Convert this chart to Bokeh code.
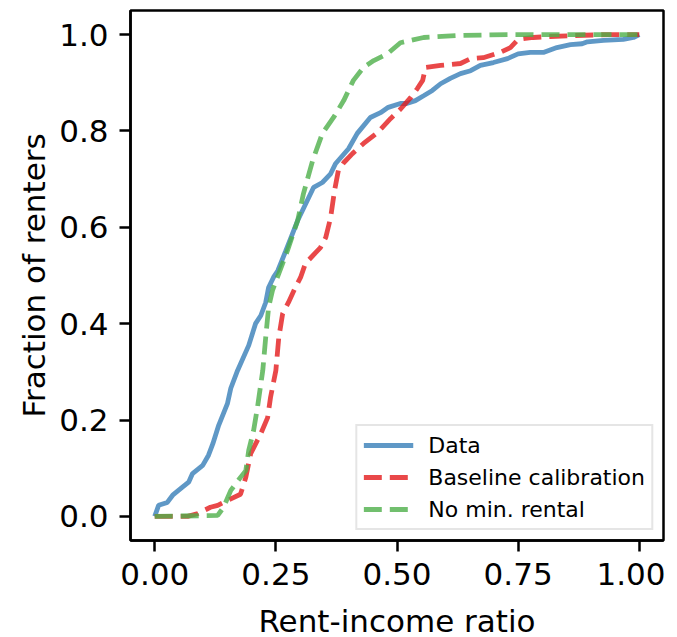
from bokeh.plotting import figure
from bokeh.models import Range1d, FixedTicker, Legend, LegendItem
from bokeh.embed import file_html
from bokeh.resources import INLINE

# ---- data ----
data_x = [0, 0.008, 0.026, 0.037, 0.054, 0.07, 0.078, 0.099, 0.111, 0.12, 0.132, 0.15, 0.157, 0.171, 0.194,
          0.208, 0.219, 0.229, 0.235, 0.245, 0.254, 0.27, 0.295, 0.328, 0.346, 0.363, 0.373, 0.4, 0.418, 0.445,
          0.466, 0.482, 0.507, 0.52, 0.538, 0.555, 0.573, 0.59, 0.61, 0.631, 0.652, 0.672, 0.699, 0.728, 0.75,
          0.775, 0.802, 0.83, 0.858, 0.882, 0.893, 0.926, 0.967, 0.988, 1.0]
data_y = [0, 0.023, 0.029, 0.044, 0.058, 0.071, 0.089, 0.106, 0.127, 0.151, 0.189, 0.234, 0.266, 0.303, 0.355,
          0.4, 0.417, 0.444, 0.475, 0.496, 0.51, 0.55, 0.614, 0.683, 0.693, 0.711, 0.732, 0.763, 0.795, 0.828,
          0.838, 0.849, 0.857, 0.857, 0.863, 0.873, 0.884, 0.898, 0.909, 0.919, 0.925, 0.936, 0.942, 0.95, 0.96,
          0.963, 0.963, 0.973, 0.979, 0.981, 0.985, 0.988, 0.99, 0.994, 1.0]

base_x = [0, 0.068, 0.089, 0.115, 0.13, 0.15, 0.177, 0.188, 0.198, 0.219, 0.233, 0.239, 0.25, 0.256, 0.264,
          0.276, 0.29, 0.301, 0.311, 0.326, 0.342, 0.353, 0.363, 0.371, 0.379, 0.39, 0.408, 0.431, 0.46, 0.487,
          0.507, 0.528, 0.542, 0.553, 0.559, 0.59, 0.631, 0.652, 0.678, 0.713, 0.734, 0.75, 0.781, 0.816, 0.864,
          0.934, 1.0]
base_y = [0, 0, 0.006, 0.019, 0.023, 0.033, 0.046, 0.081, 0.13, 0.172, 0.205, 0.247, 0.303, 0.371, 0.421,
          0.444, 0.475, 0.496, 0.525, 0.541, 0.558, 0.579, 0.62, 0.676, 0.718, 0.734, 0.753, 0.774, 0.797, 0.826,
          0.845, 0.869, 0.888, 0.905, 0.932, 0.936, 0.94, 0.95, 0.952, 0.963, 0.973, 0.99, 0.994, 0.996, 0.998,
          1.0, 1.0]

nomin_x = [0, 0.13, 0.142, 0.157, 0.177, 0.188, 0.194, 0.204, 0.212, 0.223, 0.229, 0.235, 0.243, 0.256, 0.274,
           0.295, 0.307, 0.326, 0.346, 0.369, 0.39, 0.41, 0.431, 0.452, 0.48, 0.507, 0.555, 0.625, 0.728, 1.0]
nomin_y = [0, 0.002, 0.019, 0.054, 0.081, 0.095, 0.137, 0.178, 0.226, 0.303, 0.371, 0.434, 0.469, 0.504, 0.552,
           0.614, 0.67, 0.739, 0.795, 0.828, 0.863, 0.905, 0.932, 0.946, 0.96, 0.983, 0.994, 0.998, 1.0, 1.0]

series_labels = ["Data", "Baseline calibration", "No min. rental"]
x_ticks = [0, 0.25, 0.5, 0.75, 1.0]
x_tick_labels = ["0.00", "0.25", "0.50", "0.75", "1.00"]
y_ticks = [0, 0.2, 0.4, 0.6, 0.8, 1.0]
y_tick_labels = ["0.0", "0.2", "0.4", "0.6", "0.8", "1.0"]

FONT = "DejaVu Sans"

p = figure(output_backend="svg", toolbar_location=None,
           frame_width=533, frame_height=530,
           min_border_left=130, min_border_right=2, min_border_top=10, min_border_bottom=86,
           x_range=Range1d(-0.05, 1.05), y_range=Range1d(-0.05, 1.05))
p.background_fill_color = "white"
p.border_fill_color = "white"
p.outline_line_color = "black"
p.outline_line_width = 2.5
p.xgrid.visible = False
p.ygrid.visible = False

r1 = p.line(data_x, data_y, line_color="#377eb8", line_alpha=0.8, line_width=4.8)
r2 = p.line(base_x, base_y, line_color="#e41a1c", line_alpha=0.8, line_width=4.8, line_dash="18 8")
r3 = p.line(nomin_x, nomin_y, line_color="#4daf4a", line_alpha=0.8, line_width=4.8, line_dash="18 8")

for ax, ticks, labels, title, lstand in [(p.xaxis[0], x_ticks, x_tick_labels, "Rent-income ratio", 15),
                                         (p.yaxis[0], y_ticks, y_tick_labels, "Fraction of renters", 4)]:
    ax.ticker = FixedTicker(ticks=ticks)
    ax.major_label_overrides = {t: l for t, l in zip(ticks, labels)}
    ax.minor_tick_line_color = None
    ax.major_tick_in = 0
    ax.major_tick_out = 11
    ax.major_tick_line_width = 2.5
    ax.axis_line_width = 2.5
    ax.major_label_standoff = 11
    ax.major_label_text_font = FONT
    ax.major_label_text_font_size = "31px"
    ax.major_label_text_color = "black"
    ax.axis_label = title
    ax.axis_label_text_font = FONT
    ax.axis_label_text_font_size = "31px"
    ax.axis_label_text_font_style = "normal"
    ax.axis_label_text_color = "black"
    ax.axis_label_standoff = lstand

legend = Legend(items=[LegendItem(label=series_labels[0], renderers=[r1]),
                       LegendItem(label=series_labels[1], renderers=[r2]),
                       LegendItem(label=series_labels[2], renderers=[r3])],
                location="bottom_right")
legend.margin = 10
legend.padding = 6
legend.spacing = 6
legend.glyph_width = 50
legend.glyph_height = 26
legend.label_height = 26
legend.label_standoff = 15
legend.label_text_font = FONT
legend.label_text_font_size = "22px"
legend.label_text_color = "black"
legend.border_line_color = "#cccccc"
legend.border_line_width = 2
legend.background_fill_color = "white"
legend.background_fill_alpha = 0.8
p.add_layout(legend, "center")

open("out.html", "w").write(file_html(p, INLINE))
